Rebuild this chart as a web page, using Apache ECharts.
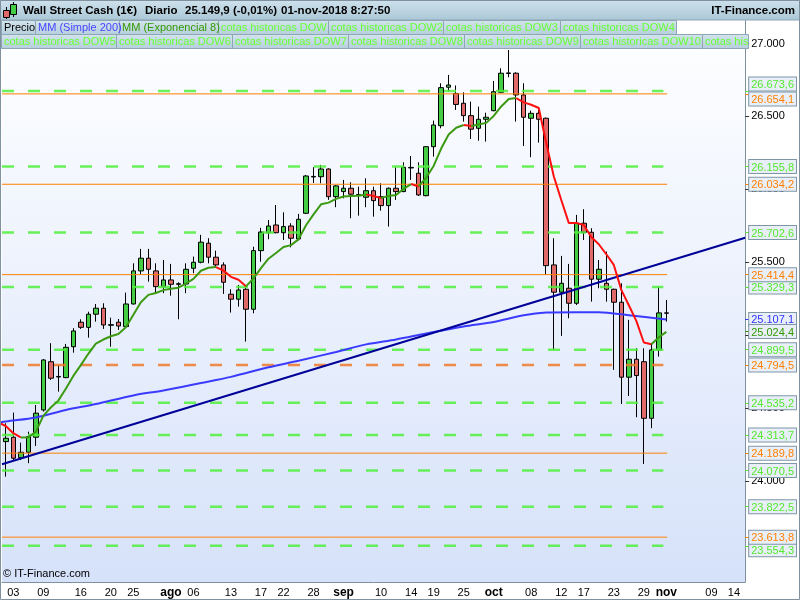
<!DOCTYPE html>
<html><head><meta charset="utf-8">
<script src="https://cdn.jsdelivr.net/npm/echarts@6/dist/echarts.min.js"></script>
<style>html,body{margin:0;padding:0;background:#fff}#c{width:800px;height:600px}</style>
</head><body><div id="c"></div>
<script>
// ---------- DATA ----------
const dates = [
 '02/07','03/07','04/07','05/07','06/07','09/07','10/07','11/07','12/07','13/07','16/07','17/07','18/07','19/07','20/07','23/07','24/07','25/07','26/07','27/07','30/07','31/07',
 '01/08','02/08','03/08','06/08','07/08','08/08','09/08','10/08','13/08','14/08','15/08','16/08','17/08','20/08','21/08','22/08','23/08','24/08','27/08','28/08','29/08','30/08','31/08',
 '03/09','04/09','05/09','06/09','07/09','10/09','11/09','12/09','13/09','14/09','17/09','18/09','19/09','20/09','21/09','24/09','25/09','26/09','27/09','28/09',
 '01/10','02/10','03/10','04/10','05/10','08/10','09/10','10/10','11/10','12/10','15/10','16/10','17/10','18/10','19/10','22/10','23/10','24/10','25/10','26/10','29/10','30/10','31/10',
 '01/11','02/11','05/11','06/11','07/11','08/11','09/11','12/11','13/11','14/11','15/11'
];
const tickLabels = {
 '03/07':'03','09/07':'09','16/07':'16','20/07':'20','25/07':'25','01/08':'ago','06/08':'06','13/08':'13','17/08':'17','22/08':'22','28/08':'28',
 '03/09':'sep','10/09':'10','14/09':'14','19/09':'19','25/09':'25','01/10':'oct','08/10':'08','12/10':'12','17/10':'17','23/10':'23','29/10':'29',
 '01/11':'nov','09/11':'09','14/11':'14'
};
const monthLabels = ['ago','sep','oct','nov'];
const opens = [24269,24299,24159,24196,24299,24486,24817,24712,24708,24920,25088,25053,25143,25184,25067,25088,25058,25213,25440,25527,25440,25332,
 25378,25348,25350,25458,25499,25630,25534,25481,25280,25246,25314,25177,25579,25702,25755,25702,25748,25659,25835,26084,26086,26139,25949,
 25984,26007,25959,25945,25990,25949,25888,26007,25984,26146,26110,25956,26292,26436,26700,26657,26590,26505,26418,26480,
 26539,26665,26794,26796,26647,26487,26521,26487,25481,25294,25321,25218,25767,25705,25383,25355,25314,25225,24711,24834,24817,24429,24898,
 25152];
const closes = [24292,24155,24196,24303,24464,24829,24704,24716,24916,25028,25053,25143,25184,25069,25071,25062,25213,25440,25527,25451,25332,25378,
 25348,25352,25451,25499,25637,25534,25481,25362,25246,25309,25177,25579,25707,25748,25702,25744,25664,25794,26091,26088,26139,25949,26023,
 26007,25966,25963,25990,25922,25888,26007,25984,26151,26150,25961,26292,26441,26697,26715,26582,26505,26412,26480,26494,
 26669,26796,26798,26647,26494,26521,26480,25476,25294,25355,25218,25767,25705,25383,25451,25314,25225,24711,24834,24722,24429,24898,25152,
 25149.9];
const lows = [24029,24143,24143,24121,24239,24475,24692,24612,24704,24879,25042,24982,25092,25042,24920,25035,25058,25210,25417,25366,25287,25287,
 25270,25108,25287,25424,25492,25492,25469,25282,25154,25195,24955,25149,25503,25657,25698,25652,25602,25650,25830,26043,26041,25927,25877,
 25938,25801,25819,25877,25812,25853,25744,25927,25980,26064,25954,25952,26224,26418,26669,26544,26464,26345,26333,26327,
 26535,26660,26768,26464,26297,26220,26320,25412,24898,24994,25115,25206,25652,25229,25321,25229,24761,24527,24582,24436,24116,24361,24852,
 25092];
const highs = [24395,24468,24262,24337,24520,24835,24944,24795,24939,25047,25108,25160,25213,25218,25119,25110,25291,25492,25591,25591,25492,25515,
 25488,25362,25492,25538,25687,25664,25579,25499,25314,25344,25332,25606,25735,25789,25892,25842,25767,25831,26098,26151,26167,26144,26028,
 26064,26048,26018,26075,26018,26041,26012,26151,26185,26228,26185,26296,26471,26727,26784,26712,26665,26601,26567,26525,
 26743,26830,26955,26803,26727,26539,26556,26492,25664,25543,25488,25824,25863,25733,25515,25572,25318,25355,25104,24909,24909,24944,25332,
 25241];
// MM (Simple 200) at some candle positions
const smaIdx = [-1,0,4,8,12,17,21,26,30,35,39,44,48,52,56,61,65,69,72,76,79,83,88];
const smaVal = [24397,24407,24435,24486,24527,24586,24620,24671,24713,24779,24824,24884,24936,24970,25011,25059,25090,25136,25154,25157,25156,25136,25107.1];
// trend line end points (left edge, right edge)
const trendIdx = [-0.5, 98.5];
const trendVal = [24114, 25667];
// EMA 8 value just before first candle
const emaSeed = 24400;
const greenLevels = [26673.6,26155.8,25702.6,25329.3,24899.5,24535.2,24313.7,24070.5,23822.5,23554.3];
const orangeLevels = [26654.1,26034.2,25414.4,24189.8,23613.8];
const orangeDashedLevels = [24794.5];
const smaLast = [25107.1];
const emaLast = [25024.4];
const yTicks = [24000,24500,25000,25500,26000,26500,27000];

// ---------- CHART ----------
const Y_MIN = 23306, Y_MAX = 27161;
const chart = echarts.init(document.getElementById('c'), null, {renderer:'canvas'});

function fmtInt(v){ const s = String(Math.round(v)); return s.slice(0,s.length-3)+'.'+s.slice(-3); }
function fmtLevel(v){ const p = v.toFixed(1).split('.'); const a=p[0]; return a.slice(0,a.length-3)+'.'+a.slice(-3)+','+p[1]; }

// EMA 8 computed from the closes
const ema = [[-1, emaSeed]];
{ let e = emaSeed; const k = 2/9; for (let i=0;i<closes.length;i++){ e = e + k*(closes[i]-e); ema.push([i, e]); } }
// split into coloured runs (red when falling, green when rising)
const emaSeries = [];
{ let cur = null, col = null;
  for (let j=1;j<ema.length;j++){
    const c = ema[j][1] < ema[j-1][1] ? '#ff1010' : '#3b9a12';
    if (c !== col){ cur = [ema[j-1]]; col = c; emaSeries.push({col:c, data:cur}); }
    cur.push(ema[j]);
  }
}

const candleData = opens.map((o,i)=>[o, closes[i], lows[i], highs[i]]);
const FONT = '"Liberation Sans", Arial, sans-serif';

function levelSeries(v, color, width, dashed, endIdx){
  return {type:'line', xAxisIndex:1, yAxisIndex:0, data:[[-0.5,v],[endIdx,v]], showSymbol:false, silent:true, z:3,
    lineStyle:{color:color, width:width, type: dashed ? [12,14] : 'solid'}, animation:false};
}

const shifts = {26673.6:-7, 26654.1:5, 23554.3:4};
function boxFormatter(key){
  return function(v){
    const t = '{'+key+'|'+fmtLevel(v)+'}';
    const s = shifts[v];
    if (!s) return t;
    const sp = '{s'+Math.abs(s*2)+'| }';
    return s < 0 ? t+'\n'+sp : sp+'\n'+t;
  };
}
const boxBase = {fontSize:11, fontFamily:FONT, backgroundColor:'#e9eff8', borderColor:'#7f96a7', borderWidth:1, padding:[2,2,0,2], lineHeight:12};
const spacers = {s14:{height:14,lineHeight:14,fontSize:1}, s10:{height:10,lineHeight:10,fontSize:1}, s8:{height:8,lineHeight:8,fontSize:1}};
function labelAxis(vals, color, key){
  const rich = Object.assign({}, spacers); rich[key] = Object.assign({color:color}, boxBase);
  return {type:'value', position:'right', offset:0, min:Y_MIN, max:Y_MAX, gridIndex:0, z:6,
    axisLine:{show:false, onZero:false}, splitLine:{show:false},
    axisTick:{show:true, length:4, customValues:vals, lineStyle:{color:color}},
    axisLabel:{show:true, customValues:vals, margin:4, formatter:boxFormatter(key), rich:rich}};
}

const series = [
  {type:'candlestick', xAxisIndex:0, yAxisIndex:0, data:candleData, barWidth:5, z:2, animation:false,
   itemStyle:{color:'#44cc44', color0:'#e06a6a', borderColor:'#000', borderColor0:'#000', borderWidth:1}}
];
greenLevels.forEach(v=>series.push(levelSeries(v,'rgba(80,240,60,0.85)',2.5,true,87.6)));
orangeLevels.forEach(v=>series.push(levelSeries(v,'#ff8000',1,false,88.1)));
orangeDashedLevels.forEach(v=>series.push(levelSeries(v,'rgba(240,120,40,0.85)',2.5,true,87.6)));
series.push({type:'line', xAxisIndex:1, yAxisIndex:0, data:smaIdx.map((x,i)=>[x,smaVal[i]]), showSymbol:false, smooth:0.3, z:4, animation:false,
  lineStyle:{color:'#3b3bff', width:2}});
series.push({type:'line', xAxisIndex:1, yAxisIndex:0, data:trendIdx.map((x,i)=>[x,trendVal[i]]), showSymbol:false, z:4, animation:false,
  lineStyle:{color:'#000099', width:2}});
emaSeries.forEach(s=>series.push({type:'line', xAxisIndex:1, yAxisIndex:0, data:s.data, showSymbol:false, z:5, animation:false,
  lineStyle:{color:s.col, width:2}}));

// header / legend graphics
const g = [];
g.push({type:'rect', shape:{x:0,y:0,width:800,height:20}, z:100,
  style:{fill:new echarts.graphic.LinearGradient(0,0,0,1,[{offset:0,color:'#cfe2ec'},{offset:1,color:'#aac7d6'}]), stroke:'#8fa6b4', lineWidth:1}});
// candle icon
g.push({type:'line', shape:{x1:6.5,y1:7,x2:6.5,y2:19}, z:101, style:{stroke:'#000',lineWidth:1}});
g.push({type:'rect', shape:{x:3.5,y:10.5,width:6,height:7}, z:102, style:{fill:'#e06a6a',stroke:'#000',lineWidth:1}});
g.push({type:'line', shape:{x1:13.5,y1:2,x2:13.5,y2:17}, z:101, style:{stroke:'#000',lineWidth:1}});
g.push({type:'rect', shape:{x:10.5,y:4.5,width:6,height:10}, z:102, style:{fill:'#44cc44',stroke:'#000',lineWidth:1}});
const hdrFont = 'bold 11.5px '+FONT;
[['Wall Street Cash (1€)',23],['Diario',145],['25.149,9 (-0,01%)',185],['01-nov-2018 8:27:50',281]].forEach(t=>{
  g.push({type:'text', z:103, style:{text:t[0], x:t[1], y:11, font:hdrFont, fill:'#000', verticalAlign:'middle'}});
});
g.push({type:'text', z:103, style:{text:'IT-Finance.com', x:795, y:11, font:hdrFont, fill:'#000', align:'right', verticalAlign:'middle'}});
const lgFill = new echarts.graphic.LinearGradient(0,0,0,1,[{offset:0,color:'#d3e4ed'},{offset:1,color:'#b6cfdc'}]);
const row1 = [['Precio',1,35,'#000'],['MM (Simple 200)',35,119,'#4646ff'],['MM (Exponencial 8)',119,218,'#339900'],
  ['cotas historicas DOW',218,328,'#66ff33'],['cotas historicas DOW2',328,443,'#66ff33'],['cotas historicas DOW3',443,560,'#66ff33'],['cotas historicas DOW4',560,676,'#66ff33']];
const row2 = [['cotas historicas DOW5',1,116],['cotas historicas DOW6',116,232],['cotas historicas DOW7',232,348],['cotas historicas DOW8',348,464],
  ['cotas historicas DOW9',464,580],['cotas historicas DOW10',580,702],['cotas his',702,748]];
row1.forEach(c=>{
  g.push({type:'rect', z:100, shape:{x:c[1]+0.5,y:20.5,width:c[2]-c[1],height:14}, style:{fill:lgFill, stroke:'#8fa6b4', lineWidth:1}});
  g.push({type:'text', z:103, style:{text:c[0], x:c[1]+3, y:28, font:'11px '+FONT, fill:c[3], verticalAlign:'middle'}});
});
row2.forEach(c=>{
  g.push({type:'rect', z:100, shape:{x:c[1]+0.5,y:34.5,width:c[2]-c[1],height:14}, style:{fill:lgFill, stroke:'#8fa6b4', lineWidth:1}});
  g.push({type:'text', z:103, style:{text:c[0], x:c[1]+3, y:42, font:'11px '+FONT, fill:'#66ff33', verticalAlign:'middle'}});
});
g.push({type:'text', z:103, style:{text:'© IT-Finance.com', x:3, y:574, font:'11px '+FONT, fill:'#000', verticalAlign:'middle'}});
g.push({type:'rect', z:104, shape:{x:0.5,y:0.5,width:799,height:599}, style:{fill:'none', stroke:'#7f919e', lineWidth:1}});

const option = {
  backgroundColor:'#ffffff',
  animation:false,
  grid:{left:2, right:52, top:20, bottom:18, show:true, borderWidth:0,
    backgroundColor:new echarts.graphic.LinearGradient(0,0,0,1,[{offset:0,color:'#ffffff'},{offset:1,color:'#d6e2fa'}])},
  xAxis:[
    {type:'category', data:dates, boundaryGap:true, gridIndex:0, position:'bottom',
     axisLine:{onZero:false, lineStyle:{color:'#7f919e'}},
     axisTick:{alignWithLabel:true, length:3, interval:(i,v)=>tickLabels[v]!==undefined, lineStyle:{color:'#555'}},
     axisLabel:{interval:(i,v)=>tickLabels[v]!==undefined, margin:5, fontSize:11, fontFamily:FONT, color:'#000',
       formatter:(v)=>{const t=tickLabels[v]||''; return monthLabels.indexOf(t)>=0 ? '{m|'+t+'}' : t;},
       rich:{m:{fontWeight:'bold', fontSize:12, fontFamily:FONT, color:'#000'}}},
     splitLine:{show:false}},
    {type:'value', min:-0.5, max:98.5, gridIndex:0, show:false, axisLine:{onZero:false}}
  ],
  yAxis:[
    {type:'value', position:'right', offset:0, min:Y_MIN, max:Y_MAX, gridIndex:0, z:3,
     axisLine:{show:true, onZero:false, lineStyle:{color:'#7f919e'}}, splitLine:{show:false},
     axisTick:{show:true, length:4, customValues:yTicks, lineStyle:{color:'#333'}},
     axisLabel:{customValues:yTicks, margin:6, fontSize:11, fontFamily:FONT, color:'#000', formatter:fmtInt}},
    labelAxis(greenLevels,'#55e830','g'),
    labelAxis(orangeLevels.concat(orangeDashedLevels),'#ff8000','o'),
    labelAxis(smaLast,'#3333ff','b'),
    labelAxis(emaLast,'#339900','d')
  ],
  series:series,
  graphic:g
};
chart.setOption(option);
</script>
</body></html>
